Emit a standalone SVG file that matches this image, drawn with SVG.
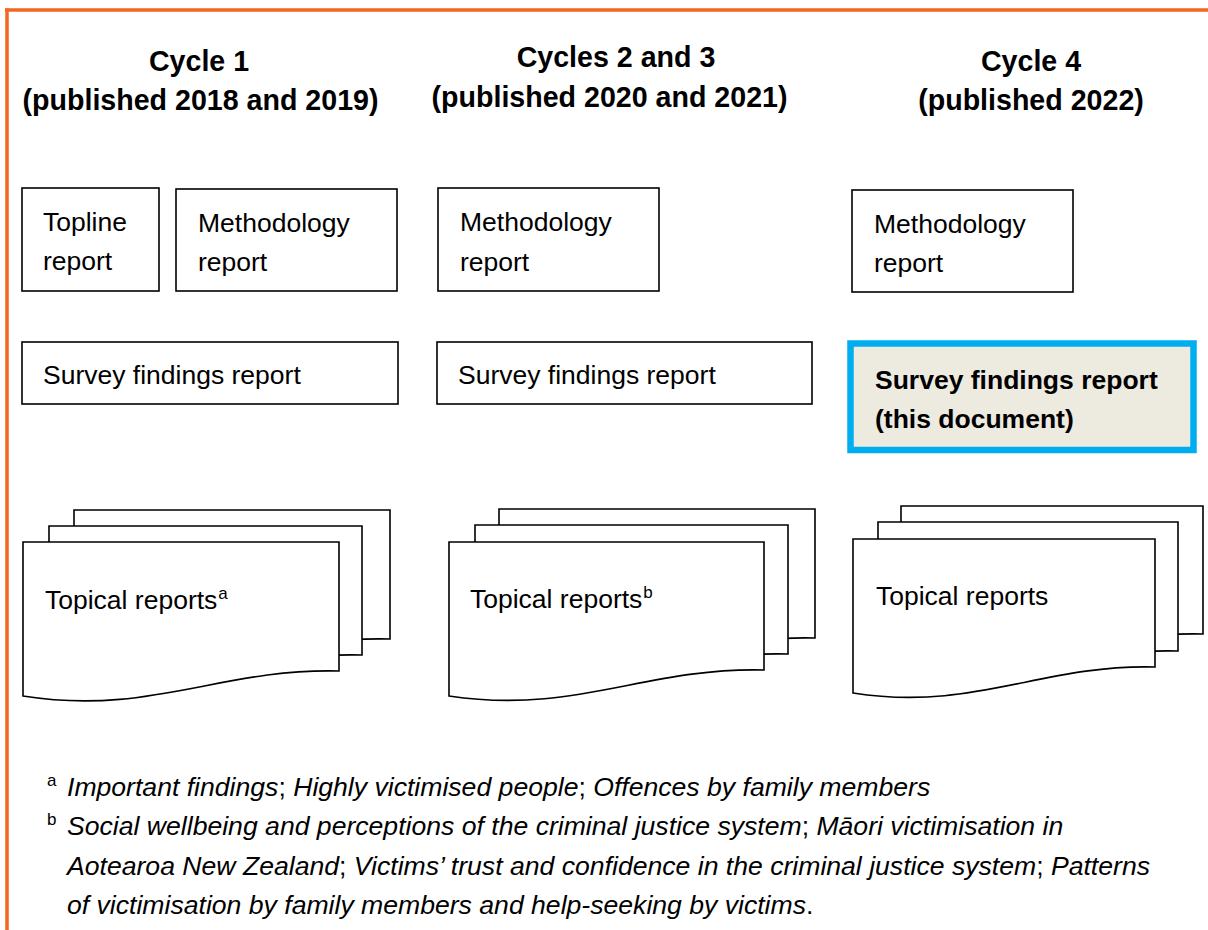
<svg xmlns="http://www.w3.org/2000/svg" width="1208" height="930" viewBox="0 0 1208 930">
<style>
text{font-family:"Liberation Sans",Arial,sans-serif;fill:#000}
.t{font-size:28.6px;font-weight:bold;text-anchor:middle}
.b{font-size:26.5px}
.bb{font-size:26.5px;font-weight:bold}
.box{fill:#fff;stroke:#000;stroke-width:1.6}
.doc{fill:#fff;stroke:#000;stroke-width:1.6;stroke-linejoin:miter}
.fn{font-size:26.6px}
.it{font-style:italic}
.sup{font-size:17px}
</style>
<rect width="1208" height="930" fill="#fff"/>
<g id="frame">
<line x1="5" y1="10" x2="1208" y2="10" stroke="#F26522" stroke-width="3.5"/>
<line x1="7" y1="8.5" x2="7" y2="930" stroke="#F26522" stroke-width="3.5"/>
</g>
<g id="titles">
<text class="t" x="199" y="71">Cycle 1</text>
<text class="t" x="200.5" y="110">(published 2018 and 2019)</text>
<text class="t" x="616" y="67">Cycles 2 and 3</text>
<text class="t" x="609.5" y="107">(published 2020 and 2021)</text>
<text class="t" x="1031" y="71">Cycle 4</text>
<text class="t" x="1031" y="110">(published 2022)</text>
</g>
<g id="topline1">
<rect class="box" x="22" y="188" width="137" height="103"/>
<text class="b" x="43" y="231">Topline</text>
<text class="b" x="43" y="270">report</text>
</g>
<g id="methodology1">
<rect class="box" x="176" y="189" width="221" height="102"/>
<text class="b" x="198" y="232">Methodology</text>
<text class="b" x="198" y="271">report</text>
</g>
<g id="methodology2">
<rect class="box" x="438" y="188" width="221" height="103"/>
<text class="b" x="460" y="231">Methodology</text>
<text class="b" x="460" y="271">report</text>
</g>
<g id="methodology3">
<rect class="box" x="852" y="190" width="221" height="102"/>
<text class="b" x="874" y="233">Methodology</text>
<text class="b" x="874" y="272">report</text>
</g>
<g id="survey1">
<rect class="box" x="22" y="342" width="376" height="62"/>
<text class="b" x="43" y="384">Survey findings report</text>
</g>
<g id="survey2">
<rect class="box" x="437" y="342" width="375" height="62"/>
<text class="b" x="458" y="384">Survey findings report</text>
</g>
<g id="survey3">
<rect x="850.5" y="343.5" width="343" height="106.5" fill="#EDEAE0" stroke="#00AEEF" stroke-width="6.5"/>
<text class="bb" x="875" y="389">Survey findings report</text>
<text class="bb" x="875" y="428">(this document)</text>
</g>
<g id="topical1">
<path class="doc" transform="translate(74,510)" d="M0,0 H316 V129 C197,126 127,174 0,154 Z"/>
<path class="doc" transform="translate(49,526)" d="M0,0 H313 V129 C194,126 124,174 0,154 Z"/>
<path class="doc" transform="translate(23,542)" d="M0,0 H316 V129 C197,126 127,174 0,154 Z"/>
<text class="b" x="45" y="609">Topical reports<tspan class="sup" dx="1" dy="-10">a</tspan></text>
</g>
<g id="topical2">
<path class="doc" transform="translate(499,509)" d="M0,0 H316 V129 C197,126 127,174 0,154 Z"/>
<path class="doc" transform="translate(475,525)" d="M0,0 H313 V129 C194,126 124,174 0,154 Z"/>
<path class="doc" transform="translate(449,542)" d="M0,0 H315 V128 C196,125 126,173 0,154 Z"/>
<text class="b" x="470" y="608">Topical reports<tspan class="sup" dx="1" dy="-10">b</tspan></text>
</g>
<g id="topical3">
<path class="doc" transform="translate(901,506)" d="M0,0 H302 V128 C188,125 121,173 0,153 Z"/>
<path class="doc" transform="translate(878,522)" d="M0,0 H300 V129 C186,126 119,174 0,154 Z"/>
<path class="doc" transform="translate(853,539)" d="M0,0 H302 V128 C188,125 121,173 0,154 Z"/>
<text class="b" x="876" y="605">Topical reports</text>
</g>
<g id="footnotes">
<text class="sup" x="47" y="786">a</text>
<text class="fn" x="67" y="796"><tspan class="it">Important findings</tspan>; <tspan class="it">Highly victimised people</tspan>; <tspan class="it">Offences by family members</tspan></text>
<text class="sup" x="47" y="825">b</text>
<text class="fn" x="67" y="835"><tspan class="it">Social wellbeing and perceptions of the criminal justice system</tspan>; <tspan class="it">Māori victimisation in</tspan></text>
<text class="fn" x="67" y="875"><tspan class="it">Aotearoa New Zealand</tspan>; <tspan class="it">Victims’ trust and confidence in the criminal justice system</tspan>; <tspan class="it">Patterns</tspan></text>
<text class="fn" x="67" y="914"><tspan class="it">of victimisation by family members and help-seeking by victims</tspan>.</text>
</g>
</svg>
